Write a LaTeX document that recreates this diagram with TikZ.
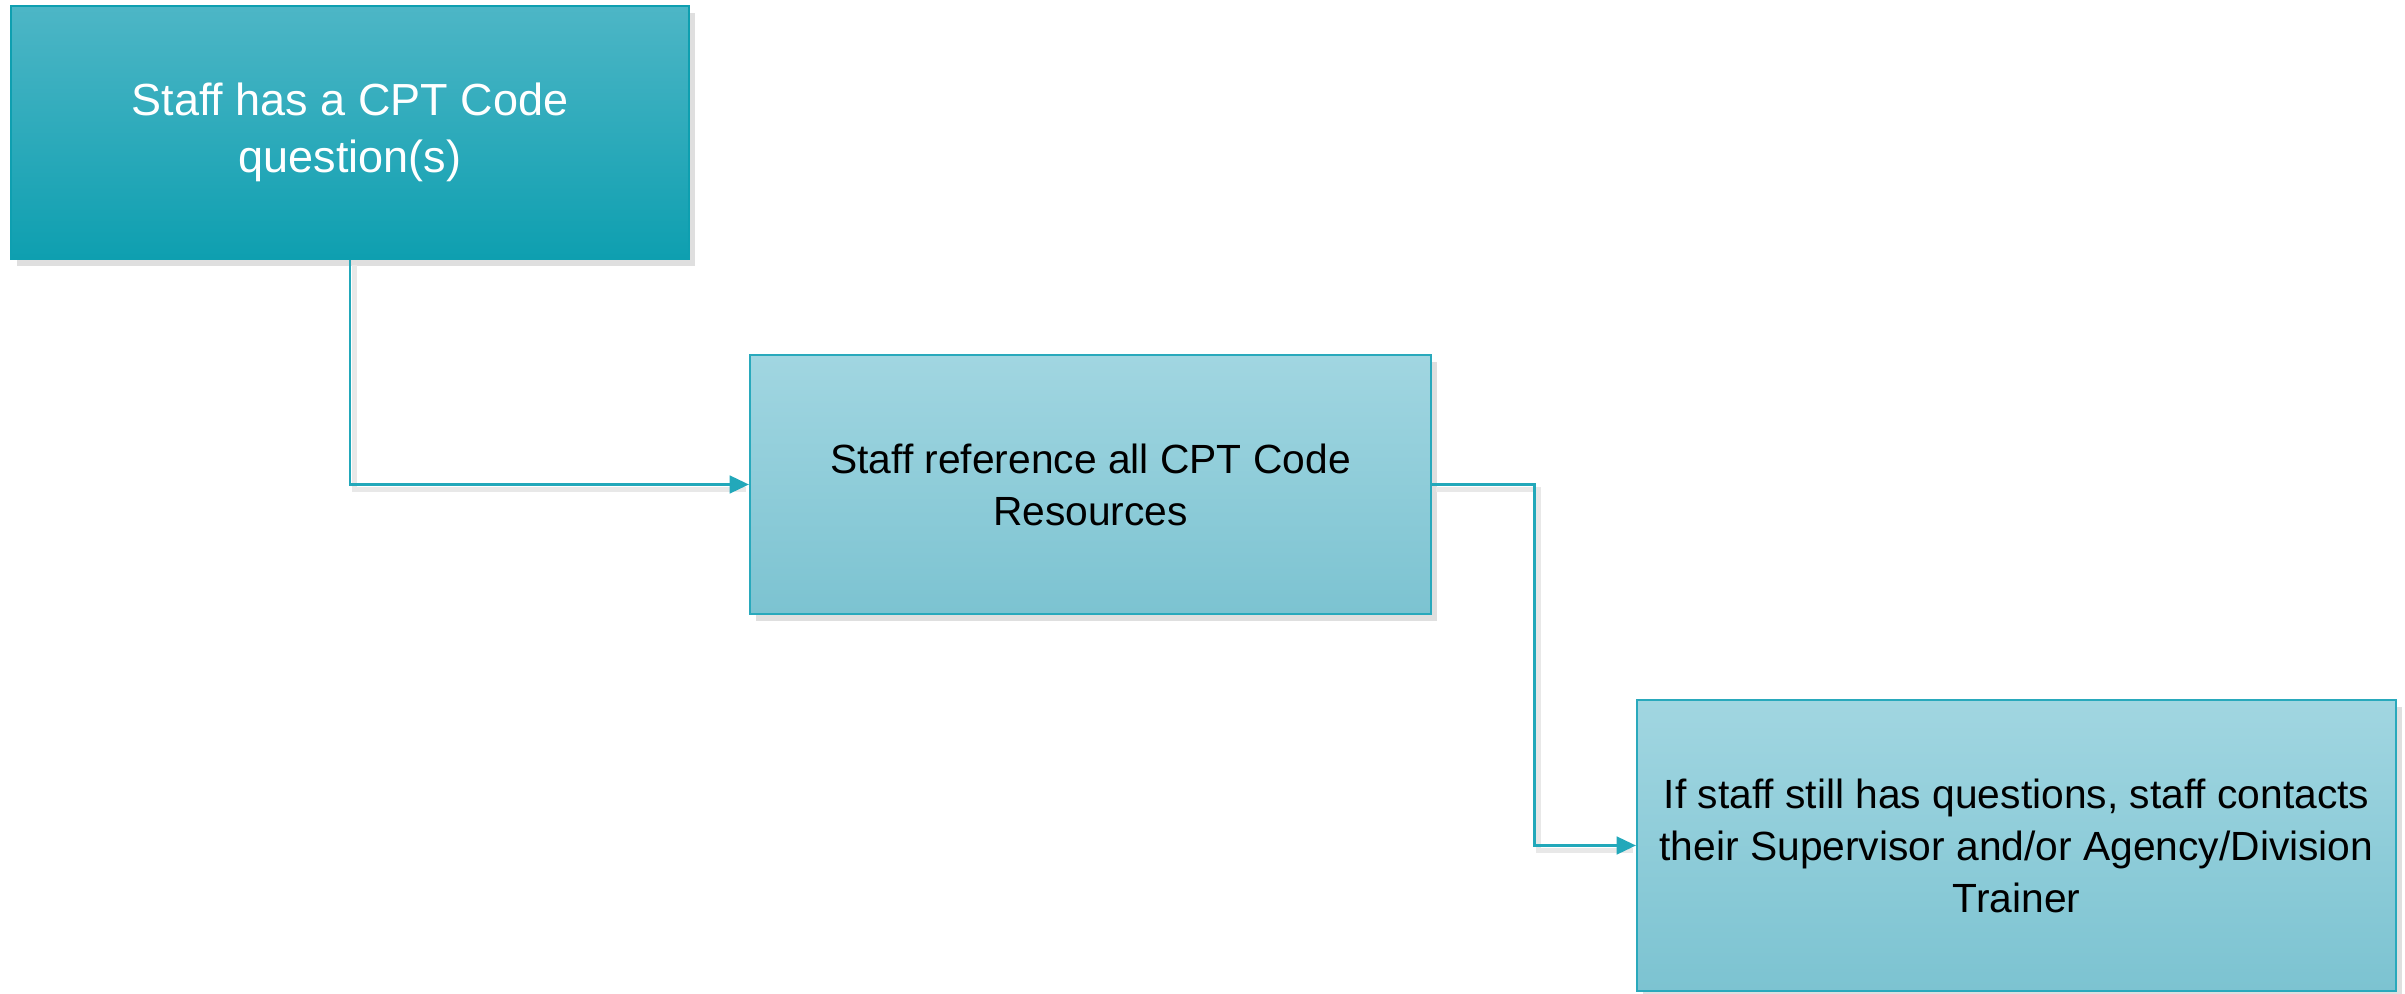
\documentclass[tikz,border=0pt]{standalone}
\usepackage{fontspec}
\setmainfont{Liberation Sans}
\usetikzlibrary{arrows.meta,shadows}

\definecolor{tealtop}{RGB}{77,182,198}
\definecolor{tealmid}{RGB}{24,173,191}
\definecolor{tealbot}{RGB}{14,159,176}
\definecolor{lighttop}{RGB}{161,214,225}
\definecolor{lightbot}{RGB}{124,195,209}
\definecolor{edgeteal}{RGB}{41,169,188}
\definecolor{linkteal}{RGB}{34,168,186}

\tikzset{
  boxshadow/.style={drop shadow={shadow xshift=1.8pt,shadow yshift=-2pt,opacity=0.18,fill=black!70}},
  startbox/.style={rectangle,boxshadow,top color=tealtop,middle color=tealmid,bottom color=tealbot,
    draw=tealbot,line width=0.4pt,align=center,text=white,
    font=\fontsize{12.8}{16.4}\selectfont},
  stepbox/.style={rectangle,boxshadow,top color=lighttop,bottom color=lightbot,
    draw=edgeteal,line width=0.6pt,align=center,text=black,
    font=\fontsize{11.6}{14.8}\selectfont},
  link/.style={draw=linkteal,line width=0.85pt,-{Triangle[length=5.5pt,width=5pt]},
    preaction={draw=black!9,line width=1.4pt,-,shorten >=2pt,transform canvas={shift={(1.2pt,-1.5pt)}}}}
}

\begin{document}
\begin{tikzpicture}
        \useasboundingbox (0,0) rectangle (24.05,9.93);

        \node[startbox,minimum width=6.78cm,minimum height=2.53cm](question) at (3.50,8.605)
            {Staff has a CPT Code\\question(s)};
        \node[stepbox,minimum width=6.81cm,minimum height=2.59cm](resources) at (10.905,5.085)
            {Staff reference all CPT Code\\Resources};
        \node[stepbox,minimum width=7.59cm,minimum height=2.91cm](contact) at (20.165,1.475)
            {If staff still has questions, staff contacts\\their Supervisor and/or Agency/Division\\Trainer};

        \draw[link](question.south)|-(resources.west);
        \draw[link](resources.east)--++(1.02,0)|-(contact.west);
    \end{tikzpicture}
\end{document}
